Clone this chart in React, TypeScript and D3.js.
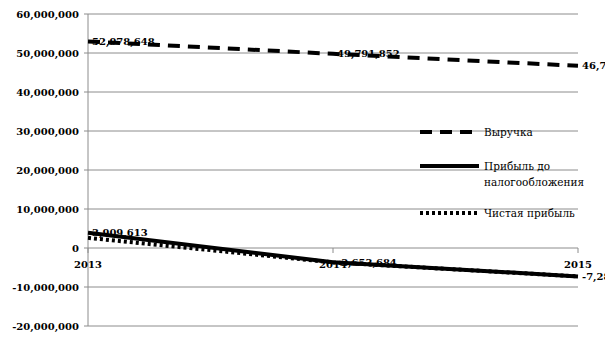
import React from "react";
import * as d3 from "d3";

const years = ["2013", "2014", "2015"];
const revenue = [52978648, 49791852, 46705056];
const profitBeforeTax = [3909613, -3653684, -7281540];
const netProfit = [2600000, -3700000, -7281540];
const yTicks = [-20000000, -10000000, 0, 10000000, 20000000, 30000000, 40000000, 50000000, 60000000];
const legendLabels = [["Выручка"], ["Прибыль до", "налогообложения"], ["Чистая прибыль"]];

export default function App() {
  const W = 605, H = 340;
  const x = d3.scalePoint<string>().domain(years).range([88, 578]);
  const y = d3.scaleLinear().domain([-20000000, 60000000]).range([326, 14]);
  const fmt = d3.formatLocale({ decimal: ".", thousands: ",", grouping: [3], currency: ["", ""], minus: "-" }).format(",");
  const line = d3.line<number>().x((_, i) => x(years[i])!).y((d) => y(d));
  const series = [
    { data: revenue, dash: "12,8", labels: true },
    { data: netProfit, dash: "3,3", labels: false },
    { data: profitBeforeTax, dash: null, labels: true },
  ];
  const legendY = [132, 166, 213];
  const legendDash = ["12,8", null, "3,3"];
  return (
    <svg width={W} height={H} style={{ position: "absolute", left: 0, top: 0, background: "#fff" }}>
      {yTicks.map((t) => (
        <g key={t}>
          <line x1={84} x2={578} y1={y(t)} y2={y(t)} stroke="#8c8c8c" strokeWidth={1} />
          <text x={79} y={y(t)} dy="0.35em" textAnchor="end" fontFamily="DejaVu Serif" fontWeight="bold" fontSize={10}>
            {fmt(t)}
          </text>
        </g>
      ))}
      <line x1={88} x2={88} y1={14} y2={326} stroke="#8c8c8c" />
      {years.map((yr) => (
        <g key={yr}>
          <line x1={x(yr)} x2={x(yr)} y1={y(0)} y2={y(0) + 5} stroke="#8c8c8c" />
          <text x={x(yr)} y={y(0) + 20} textAnchor="middle" fontFamily="DejaVu Serif" fontWeight="bold" fontSize={10}>
            {yr}
          </text>
        </g>
      ))}
      {series.map((s, i) => (
        <path key={i} d={line(s.data)!} fill="none" stroke="#000" strokeWidth={4} strokeDasharray={s.dash ?? undefined} />
      ))}
      {series.filter((s) => s.labels).map((s, i) =>
        s.data.map((v, j) => (
          <text key={`${i}-${j}`} x={x(years[j])! + 4} y={y(v)} dy="0.35em" fontFamily="DejaVu Serif" fontWeight="bold" fontSize={10}>
            {fmt(v)}
          </text>
        ))
      )}
      {legendLabels.map((lab, i) => (
        <g key={i}>
          <line x1={420} x2={479} y1={legendY[i]} y2={legendY[i]} stroke="#000" strokeWidth={4} strokeDasharray={legendDash[i] ?? undefined} />
          {lab.map((l, k) => (
            <text key={k} x={484} y={legendY[i] + k * 16} dy="0.35em" fontFamily="DejaVu Serif" fontSize={10.5}>
              {l}
            </text>
          ))}
        </g>
      ))}
    </svg>
  );
}
